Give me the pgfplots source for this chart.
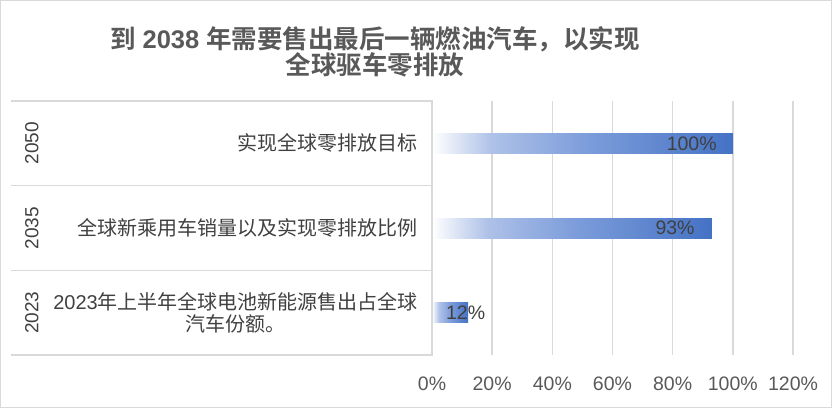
\documentclass[border=0pt]{standalone}
\usepackage{pgfplots}
\pgfplotsset{compat=1.18}
\usepackage{fontspec}
\setmainfont{Liberation Sans}
\newfontfamily\cjk{Noto Sans CJK SC}[BoldFont={Noto Sans CJK SC Bold}]

\definecolor{txt}{HTML}{595959}
\definecolor{lbl}{HTML}{404040}
\definecolor{gridc}{HTML}{D9D9D9}
\definecolor{b1}{HTML}{AEC1E8}
\definecolor{b2}{HTML}{7E9EDB}
\definecolor{b3}{HTML}{4472C4}
% white -> blue along each bar
\pgfdeclarehorizontalshading{barshade}{100bp}{color(0bp)=(white); color(25bp)=(white); color(35bp)=(b1); color(50bp)=(b2); color(75bp)=(b3); color(100bp)=(b3)}

\begin{document}
\begin{tikzpicture}
\useasboundingbox (0,0) rectangle (832pt,408pt);
\draw[gridc, line width=1pt] (0.5pt,0.5pt) rectangle (831.5pt,407.5pt);
\node[font=\bfseries\fontsize{25.5}{26}\selectfont, text=txt, align=center] at (375pt,356pt)
  {{\cjk 到} 2038 {\cjk 年需要售出最后一辆燃油汽车，以实现}\\{\cjk 全球驱车零排放}};
\begin{axis}[
  at={(432pt,53pt)}, anchor=south west, scale only axis,
  width=361pt, height=254pt,
  xbar, bar width=20pt, bar shift=0pt,
  xmin=0, xmax=120, ymin=-0.5, ymax=2.5,
  xtick={0,20,...,120},
  xticklabel={\pgfmathprintnumber{\tick}\%},
  /pgf/number format/assume math mode=true,
  xticklabel style={font=\fontsize{19.5}{20}\selectfont, text=txt, anchor=base, yshift=-35pt},
  ytick={0,1,2},
  yticklabels={{2023{\cjk 年上半年全球电池新能源售出占全球}\\{\cjk 汽车份额。}},
               {\cjk 全球新乘用车销量以及实现零排放比例},
               {\cjk 实现全球零排放目标}},
  yticklabel style={font=\fontsize{20}{22}\selectfont, text=lbl, align=center, anchor=east, inner sep=0pt, xshift=-14pt},
  axis line style={draw=none},
  major tick length=0pt,
  xmajorgrids, grid style={gridc, line width=1.5pt},
  clip=false,
  point meta=x,
  nodes near coords={\pgfmathprintnumber{\pgfplotspointmeta}\%},
  every node near coord/.append style={font=\fontsize{19.5}{20}\selectfont, text=lbl, inner sep=0pt},
]
\addplot[draw=none, shading=barshade, every node near coord/.append style={anchor=east, xshift=-16pt}] coordinates {(100,2)};
\addplot[draw=none, shading=barshade, every node near coord/.append style={anchor=east, xshift=-17pt}] coordinates {(93,1)};
\addplot[draw=none, shading=barshade, every node near coord/.append style={anchor=center, xshift=-2.5pt}] coordinates {(12,0)};

% category boxes
\draw[gridc, line width=1.5pt] (axis cs:-139.9,2.5) -- (axis cs:0,2.5) -- (axis cs:0,-0.5) -- (axis cs:-139.9,-0.5);
\draw[gridc, line width=1.5pt] (axis cs:-139.9,1.5) -- (axis cs:0,1.5);
\draw[gridc, line width=1.5pt] (axis cs:-139.9,0.5) -- (axis cs:0,0.5);
\node[rotate=90, font=\fontsize{19}{19}\selectfont, text=lbl] at (axis cs:-133,2) {2050};
\node[rotate=90, font=\fontsize{19}{19}\selectfont, text=lbl] at (axis cs:-133,1) {2035};
\node[rotate=90, font=\fontsize{19}{19}\selectfont, text=lbl] at (axis cs:-133,0) {2023};
\end{axis}
\end{tikzpicture}
\end{document}
